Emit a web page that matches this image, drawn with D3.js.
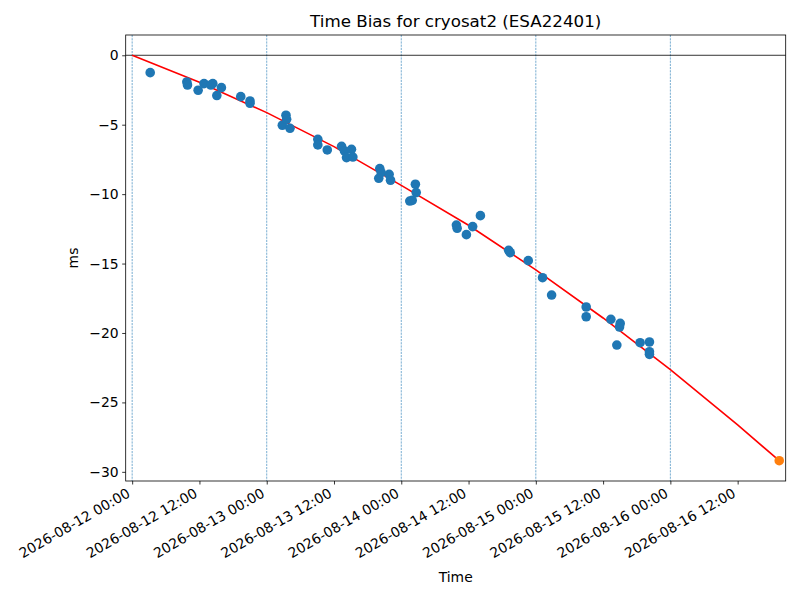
<!DOCTYPE html>
<html>

<head>
    <meta charset="utf-8">
    <title>Time Bias for cryosat2 (ESA22401)</title>
    <style>
        body {
            margin: 0;
            background: #fff;
        }

        text {
            font-family: "DejaVu Sans", sans-serif;
            fill: #000;
        }
    </style>
    <script src="https://d3js.org/d3.v7.min.js"></script>
</head>

<body>
    <script>
        // measured time bias (blue dots)
        let obsTimes = [
            "2026-08-12 03:13", "2026-08-12 09:45", "2026-08-12 09:52", "2026-08-12 11:46",
            "2026-08-12 12:49", "2026-08-12 14:02", "2026-08-12 14:23", "2026-08-12 15:06",
            "2026-08-12 15:55", "2026-08-12 19:22", "2026-08-12 21:01", "2026-08-12 21:01",
            "2026-08-13 02:47", "2026-08-13 03:26", "2026-08-13 03:33", "2026-08-13 04:09",
            "2026-08-13 09:07", "2026-08-13 09:07", "2026-08-13 10:48", "2026-08-13 13:21",
            "2026-08-13 13:52", "2026-08-13 14:14", "2026-08-13 15:07", "2026-08-13 15:22",
            "2026-08-13 19:59", "2026-08-13 20:10", "2026-08-13 20:25", "2026-08-13 21:50",
            "2026-08-13 22:05", "2026-08-14 01:31", "2026-08-14 01:57", "2026-08-14 02:31",
            "2026-08-14 02:40", "2026-08-14 09:50", "2026-08-14 09:58", "2026-08-14 11:37",
            "2026-08-14 12:44", "2026-08-14 14:07", "2026-08-14 19:09", "2026-08-14 19:26",
            "2026-08-14 22:39", "2026-08-15 01:12", "2026-08-15 02:49", "2026-08-15 08:59",
            "2026-08-15 08:59", "2026-08-15 13:23", "2026-08-15 14:27", "2026-08-15 14:56",
            "2026-08-15 15:03", "2026-08-15 18:36", "2026-08-15 20:16", "2026-08-15 20:16",
            "2026-08-15 20:16"
        ];
        let obsBias = [
            -1.25, -1.92, -2.14, -2.52,
            -2.04, -2.14, -2.04, -2.90,
            -2.33, -2.98, -3.29, -3.46,
            -5.04, -4.32, -4.61, -5.26,
            -6.05, -6.46, -6.82, -6.56,
            -6.89, -7.37, -6.77, -7.33,
            -8.86, -8.16, -8.45, -8.57,
            -9.00, -10.50, -10.45, -9.29,
            -9.89, -12.23, -12.46, -12.92,
            -12.34, -11.55, -14.05, -14.22,
            -14.79, -16.02, -17.27, -18.13,
            -18.83, -19.02, -20.87, -19.57,
            -19.31, -20.70, -20.65, -21.35,
            -21.54
        ];

        // predicted end point (orange)
        let predTime = "2026-08-16 19:25";
        let predBias = -29.2;

        // fitted trend (red line)
        let fitTimes = [
            "2026-08-12 00:00", "2026-08-12 12:00", "2026-08-13 00:00", "2026-08-13 12:00",
            "2026-08-14 00:00", "2026-08-14 12:00", "2026-08-15 00:00", "2026-08-15 12:00",
            "2026-08-16 00:00", "2026-08-16 12:00", "2026-08-16 19:25"
        ];
        let fitBias = [0, -1.94, -4.13, -6.58, -9.37, -12.24, -15.45, -18.92, -22.64, -26.62, -29.2];

        // dashed markers at midnight
        let dayLines = ["2026-08-12 00:00", "2026-08-13 00:00", "2026-08-14 00:00", "2026-08-15 00:00", "2026-08-16 00:00"];

        let xTickLabels = [
            "2026-08-12 00:00", "2026-08-12 12:00", "2026-08-13 00:00", "2026-08-13 12:00",
            "2026-08-14 00:00", "2026-08-14 12:00", "2026-08-15 00:00", "2026-08-15 12:00",
            "2026-08-16 00:00", "2026-08-16 12:00"
        ];
        let yTickValues = [0, -5, -10, -15, -20, -25, -30];

        let parse = d3.timeParse("%Y-%m-%d %H:%M");
        let fmt = d3.timeFormat("%Y-%m-%d %H:%M");

        let width = 800;
        let height = 600;
        let padL = 125.7, padR = 785.7, padT = 35, padB = 481;

        let obs = obsTimes.map((t, i) => ({ t: parse(t), v: obsBias[i] }));
        let fit = fitTimes.map((t, i) => ({ t: parse(t), v: fitBias[i] }));
        let pred = { t: parse(predTime), v: predBias };

        // matplotlib-like padding: 1% in x, 5% in y
        let tMin = d3.min(fit, d => d.t), tMax = pred.t;
        let tPad = (tMax - tMin) * 0.01;
        let vMin = d3.min(fit.concat(obs), d => d.v), vMax = 0;
        let vPad = (vMax - vMin) * 0.05;

        let x = d3.scaleTime()
            .domain([new Date(+tMin - tPad), new Date(+tMax + tPad)])
            .range([padL, padR]);
        let y = d3.scaleLinear()
            .domain([vMin - vPad, vMax + vPad])
            .range([padB, padT]);

        let svg = d3.select("body")
            .append("svg")
            .attr("width", width)
            .attr("height", height);

        svg.append("rect")
            .attr("width", width)
            .attr("height", height)
            .attr("fill", "#fff");

        let plot = svg.append("g");

        // midnight lines
        plot.selectAll(".day")
            .data(dayLines.map(parse))
            .enter()
            .append("line")
            .attr("x1", d => x(d))
            .attr("x2", d => x(d))
            .attr("y1", padT)
            .attr("y2", padB)
            .attr("stroke", "#1f77b4")
            .attr("stroke-width", 0.6)
            .attr("stroke-dasharray", "2.2,1");

        // zero line
        plot.append("line")
            .attr("x1", padL)
            .attr("x2", padR)
            .attr("y1", y(0))
            .attr("y2", y(0))
            .attr("stroke", "#000")
            .attr("stroke-width", 0.8);

        plot.append("path")
            .datum(fit)
            .attr("fill", "none")
            .attr("stroke", "red")
            .attr("stroke-width", 1.6)
            .attr("d", d3.line().x(d => x(d.t)).y(d => y(d.v)));

        plot.selectAll(".dot")
            .data(obs)
            .enter()
            .append("circle")
            .attr("r", 4.8)
            .attr("cx", d => x(d.t))
            .attr("cy", d => y(d.v))
            .attr("fill", "#1f77b4");

        plot.append("circle")
            .attr("r", 4.8)
            .attr("cx", x(pred.t))
            .attr("cy", y(pred.v))
            .attr("fill", "#ff7f0e");

        // axes
        let xAxis = d3.axisBottom(x)
            .tickValues(xTickLabels.map(parse))
            .tickFormat(fmt)
            .tickSizeInner(3.5)
            .tickSizeOuter(0)
            .tickPadding(3.5);
        let gx = svg.append("g")
            .attr("transform", `translate(0,${padB})`)
            .call(xAxis);
        gx.select(".domain").remove();
        gx.selectAll(".tick line").attr("stroke", "#000").attr("stroke-width", 0.8);
        gx.selectAll(".tick text")
            .attr("font-size", "13.9px")
            .attr("text-anchor", "end")
            .attr("dy", null)
            .attr("y", 0)
            .attr("transform", "translate(-1.6,15) rotate(-30)");

        let yAxis = d3.axisLeft(y)
            .tickValues(yTickValues)
            .tickFormat(d3.format("d"))
            .tickSizeInner(3.5)
            .tickSizeOuter(0)
            .tickPadding(3.5);
        let gy = svg.append("g")
            .attr("transform", `translate(${padL},0)`)
            .call(yAxis);
        gy.select(".domain").remove();
        gy.selectAll(".tick line").attr("stroke", "#000").attr("stroke-width", 0.8);
        gy.selectAll(".tick text").attr("font-size", "13.9px");

        // frame
        svg.append("rect")
            .attr("x", padL)
            .attr("y", padT)
            .attr("width", padR - padL)
            .attr("height", padB - padT)
            .attr("fill", "none")
            .attr("stroke", "#000")
            .attr("stroke-width", 0.8);

        svg.append("text")
            .attr("x", (padL + padR) / 2)
            .attr("y", 27)
            .attr("text-anchor", "middle")
            .attr("font-size", "16.7px")
            .text("Time Bias for cryosat2 (ESA22401)");

        svg.append("text")
            .attr("x", (padL + padR) / 2)
            .attr("y", 582)
            .attr("text-anchor", "middle")
            .attr("font-size", "13.9px")
            .text("Time");

        svg.append("text")
            .attr("transform", `translate(78,${(padT + padB) / 2}) rotate(-90)`)
            .attr("text-anchor", "middle")
            .attr("font-size", "13.9px")
            .text("ms");
    </script>
</body>

</html>
